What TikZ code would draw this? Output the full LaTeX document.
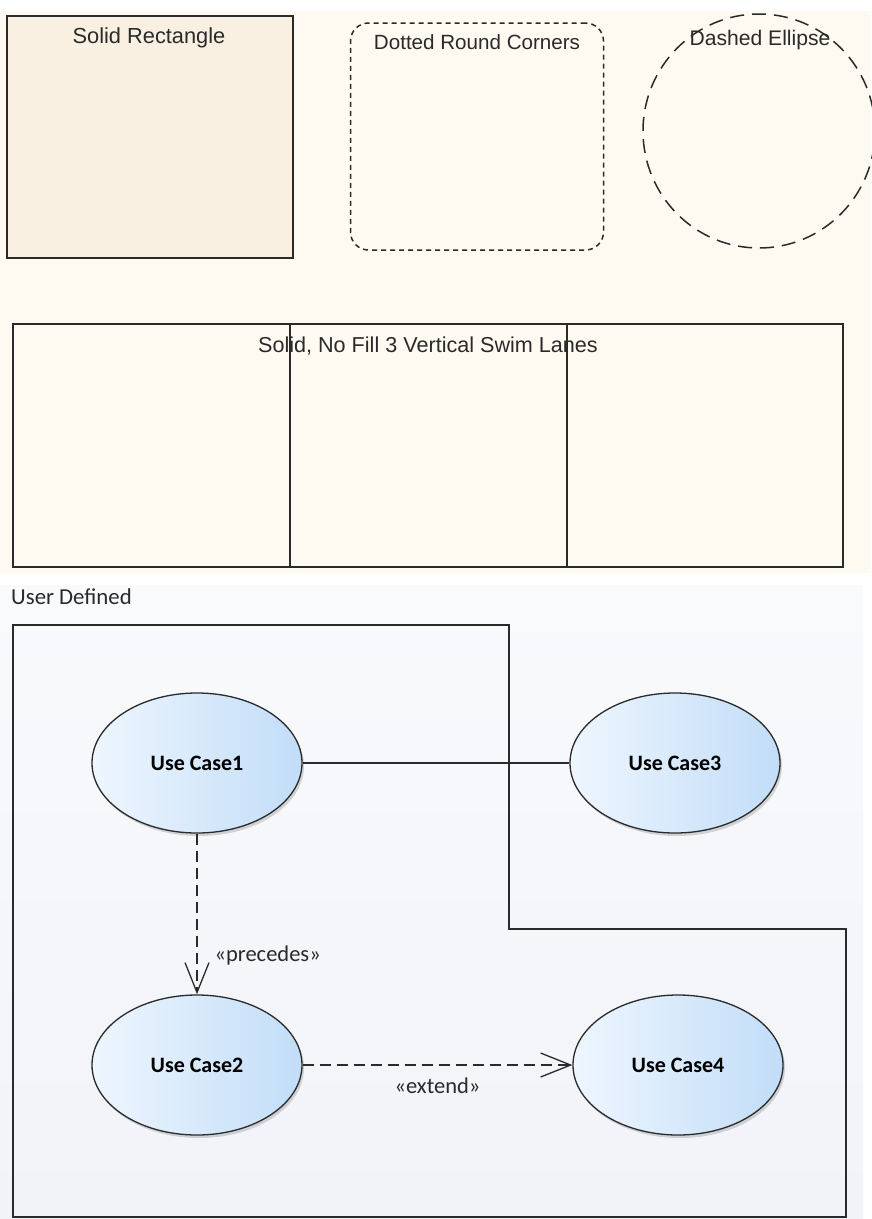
\documentclass[tikz,border=0pt]{standalone}
\usepackage{fontspec}
\setmainfont{Liberation Sans}
\newfontfamily\ucfont{Carlito}
\usetikzlibrary{shapes.geometric,arrows.meta,shadows}

\definecolor{cream}{HTML}{FEFAF2}
\definecolor{rectfill}{HTML}{FAF0E2}
\definecolor{bgtop}{HTML}{F9FAFC}
\definecolor{bgbot}{HTML}{F1F3F8}
\definecolor{ucleft}{HTML}{EEF6FE}
\definecolor{ucright}{HTML}{C2DDF8}
\definecolor{ink}{HTML}{2A2A2A}

\begin{document}
\begin{tikzpicture}[x=1pt,y=-1pt,
  lbl/.style={font=\fontsize{#1}{24}\selectfont, text=ink, inner sep=0, anchor=base},
  lbl/.default=21.3,
  shapebox/.style={draw=ink, inner sep=0},
  usecase/.style={ellipse, draw=ink, line width=1.3pt, minimum width=210pt, minimum height=140pt, inner sep=0,
    left color=ucleft, right color=ucright, text=black,
    font=\ucfont\bfseries\fontsize{22}{24}\selectfont,
    drop shadow={shadow xshift=2pt, shadow yshift=-3pt, opacity=0.22, fill=black!70}},
  conn/.style={line width=1.3pt, draw=ink},
  dep/.style={conn, dash pattern=on 11pt off 6pt, -{Straight Barb[length=30pt,width=24pt]}},
  stereo/.style={font=\ucfont\fontsize{22.5}{24}\selectfont, text=ink, inner sep=0},
]
\useasboundingbox (0,0) rectangle (871,1219);
% backgrounds
\fill[cream] (0,11) rectangle (871,573);
\shade[top color=bgtop, bottom color=bgbot, draw=none] (0,585) rectangle (863,1219);

% top shapes
\node[shapebox, line width=2pt, fill=rectfill, minimum width=286pt, minimum height=242pt] (solidrect) at (150,137) {};
\node[lbl=21.8] (solidlbl) at (149,43) {Solid Rectangle};

\node[shapebox, line width=1.5pt, rounded corners=18pt, dash pattern=on 5pt off 4pt, minimum width=253pt, minimum height=227pt] (roundbox) at (477,136.5) {};
\node[lbl=20.6] (roundlbl) at (477,49) {Dotted Round Corners};

\node[shapebox, ellipse, line width=1.5pt, dash pattern=on 14pt off 8pt, minimum width=232pt, minimum height=234pt] (dashell) at (759,131) {};
\node[lbl=21.1] (elllbl) at (760,45) {Dashed Ellipse};

% swim lanes
\node[shapebox, line width=2pt, minimum width=830pt, minimum height=243pt] (swim) at (428,445.5) {};
\draw[ink, line width=1.5pt] (290,324) -- (290,567);
\draw[ink, line width=1.5pt] (567,324) -- (567,567);
\node[lbl=21.6] (swimlbl) at (428,352) {Solid, No Fill 3 Vertical Swim Lanes};

% user defined
\node[font=\ucfont\fontsize{22.8}{24}\selectfont, text=ink, inner sep=0, anchor=base west] (udlbl) at (11,604) {User Defined};
\draw[ink, line width=1.5pt] (13,625) -- (509,625) -- (509,929) -- (846,929) -- (846,1217) -- (13,1217) -- cycle;

\node[usecase] (uc1) at (197,763) {Use Case1};
\node[usecase] (uc3) at (675,763) {Use Case3};
\node[usecase] (uc2) at (197,1065) {Use Case2};
\node[usecase] (uc4) at (678,1065) {Use Case4};

\draw[conn] (uc1) -- (uc3);
\draw[dep] (uc1) -- (uc2) node[stereo, pos=0.76, anchor=west, xshift=17pt] (prec) {«precedes»};
\draw[dep] (uc2) -- (uc4) node[stereo, pos=0.5, anchor=north, yshift=-12pt] (ext) {«extend»};
\end{tikzpicture}
\end{document}
